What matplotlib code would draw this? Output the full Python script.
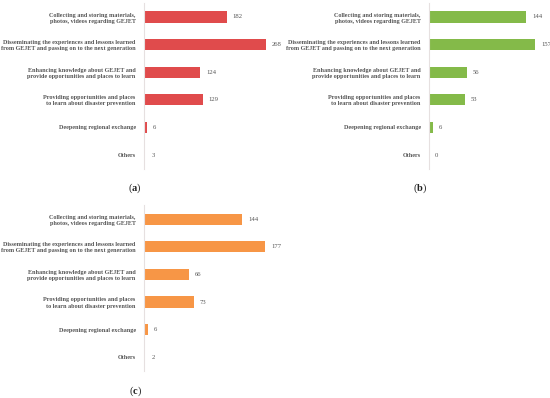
import matplotlib.pyplot as plt
import numpy as np

plt.rcParams['mathtext.fontset'] = 'custom'
plt.rcParams['mathtext.rm'] = 'Liberation Serif'
plt.rcParams['mathtext.bf'] = 'Liberation Serif:bold'

categories = ['Collecting and storing materials,\nphotos, videos regarding GEJET',
              'Disseminating the experiences and lessons learned\nfrom GEJET and passing on to the next generation',
              'Enhancing knowledge about GEJET and\nprovide opportunities and places to learn',
              'Providing opportunities and places\nto learn about disaster prevention',
              'Deepening regional exchange',
              'Others']
values_a = [182, 268, 124, 129, 6, 3]
values_b = [144, 157, 56, 53, 6, 0]
values_c = [144, 177, 66, 73, 6, 2]
panel_tags = ['a', 'b', 'c']

W, H = 550, 398
fig = plt.figure(figsize=(W / 100, H / 100), dpi=100)
fig.patch.set_facecolor('white')

def px_axes(left, top, width, height):
    return fig.add_axes([left / W, 1 - (top + height) / H, width / W, height / H])

# (values, left px, top px, px per unit, color, tag position, tag)
panels = [
    (values_a, 144, 3.2, 0.455, '#E04B4C', (135, 188), 'a'),
    (values_b, 429, 3.2, 0.675, '#84BA49', (420, 188), 'b'),
    (values_c, 144, 205.4, 0.684, '#F79646', (135, 391), 'c'),
]

pitch = 27.6
for vals, left, top, scale, color, tagpos, tag in panels:
    xmax = 300 if tag == 'a' else 180
    ax = px_axes(left, top, xmax * scale, 6 * pitch)
    y = np.arange(len(categories))
    ax.barh(y, vals, height=0.4, color=color)
    ax.set_xlim(0, xmax)
    ax.set_ylim(len(categories) - 0.5, -0.5)
    ax.set_yticks(y)
    ax.set_yticklabels(categories, fontsize=4.45, family='Liberation Serif',
                       fontweight='bold', color='#555555', multialignment='right',
                       linespacing=1.3)
    ax.tick_params(axis='y', length=0, pad=6)
    ax.set_xticks([])
    for s in ['top', 'right', 'bottom']:
        ax.spines[s].set_visible(False)
    ax.spines['left'].set_color('#E6E0E0')
    ax.spines['left'].set_linewidth(0.8)
    ax.set_facecolor('none')
    for yi, v in zip(y, vals):
        ax.text(v + 6 / scale, yi, str(v), va='center', ha='left',
                fontsize=4.8, family='Liberation Serif', color='#555555')
    fig.text(tagpos[0] / W, 1 - tagpos[1] / H, '(' + r'$\mathbf{' + tag + '}$' + ')',
             ha='center', va='center', fontsize=7.5, family='Liberation Serif', color='#222222')

fig.savefig('out.png', dpi=100, facecolor='white')
